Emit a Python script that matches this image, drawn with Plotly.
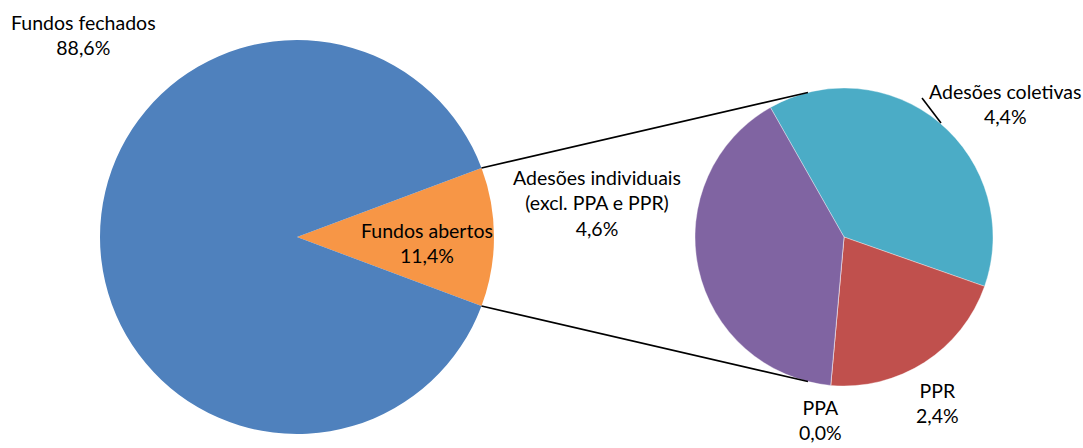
import plotly.graph_objects as go
import math

# ---- data ----
main_labels = ["Fundos abertos", "Fundos fechados"]
main_values = [11.4, 88.6]
main_colors = ["#F79646", "#4F81BD"]

sub_labels = ["Adesões coletivas", "PPR", "PPA", "Adesões individuais<br>(excl. PPA e PPR)"]
sub_values = [4.4, 2.4, 0.0, 4.6]
sub_colors = ["#4BACC6", "#C0504D", "#9BBB59", "#8064A2"]

W, H = 1083, 448
FONT = "Lato"
OFF = 0  # page body margin removed via post_script

# geometry (screen pixels)
L_CX, L_CY, L_R = 297, 237, 197
R_CX, R_CY, R_R = 844, 237, 149

def px(x):
    return (x - OFF) / W

def py(y):
    return (H - (y - OFF)) / H

def dom(cx, cy, r):
    return dict(x=[px(cx - r), px(cx + r)], y=[py(cy + r), py(cy - r)])

main_total = sum(main_values)
open_angle = main_values[0] / main_total * 360
main_rot = 90 - open_angle / 2
sub_rot = -29.6

fig = go.Figure()
fig.add_trace(go.Pie(
    labels=main_labels, values=main_values, sort=False, direction="clockwise",
    rotation=main_rot, marker=dict(colors=main_colors, line=dict(width=0)),
    textinfo="none", hoverinfo="label+percent", domain=dom(L_CX, L_CY, L_R),
    showlegend=False,
))
fig.add_trace(go.Pie(
    labels=sub_labels, values=sub_values, sort=False, direction="clockwise",
    rotation=sub_rot, marker=dict(colors=sub_colors, line=dict(width=0.6, color="rgba(255,255,255,0.6)")),
    textinfo="none", hoverinfo="label+value", domain=dom(R_CX, R_CY, R_R),
    showlegend=False,
))

def on_circle(cx, cy, r, ang_cw_from_top):
    a = math.radians(ang_cw_from_top)
    return cx + r * math.sin(a), cy - r * math.cos(a)

# connector lines from left pie open-slice edges to right pie top/bottom
p1 = on_circle(L_CX, L_CY, L_R, main_rot)
p2 = on_circle(L_CX, L_CY, L_R, main_rot + open_angle)
q1 = on_circle(R_CX, R_CY, R_R, -14)
q2 = on_circle(R_CX, R_CY, R_R, 194)
shapes = []
for a, b in [(p1, q1), (p2, q2)]:
    shapes.append(dict(type="line", xref="paper", yref="paper",
                       x0=px(a[0]), y0=py(a[1]), x1=px(b[0]), y1=py(b[1]),
                       line=dict(color="black", width=1.6)))
# leader line for Adesões coletivas
shapes.append(dict(type="line", xref="paper", yref="paper",
                   x0=px(922), y0=py(98), x1=px(941), y1=py(123),
                   line=dict(color="black", width=1.6)))

def fmt(v):
    return f"{v:.1f}".replace(".", ",") + "%"

label_pos = [
    (main_labels[1], main_values[1], 83, 35),
    (main_labels[0], main_values[0], 427, 243),
    (sub_labels[3], sub_values[3], 597, 203),
    (sub_labels[0], sub_values[0], 1005, 104),
    (sub_labels[1], sub_values[1], 938, 403),
    (sub_labels[2], sub_values[2], 820, 420),
]
annotations = []
for lab, val, x, y in label_pos:
    annotations.append(dict(text=f"{lab}<br>{fmt(val)}", x=px(x), y=py(y),
                            xref="paper", yref="paper", showarrow=False,
                            xanchor="center", yanchor="middle", align="center",
                            font=dict(family=FONT, size=19.5, color="black")))

fig.update_layout(
    width=W, height=H, margin=dict(l=0, r=0, t=0, b=0),
    paper_bgcolor="white", plot_bgcolor="white",
    shapes=shapes, annotations=annotations,
)
fig.write_html(
    "out.html",
    config={"displayModeBar": False},
    post_script="document.body.style.margin='0';document.body.style.overflow='hidden';",
)
